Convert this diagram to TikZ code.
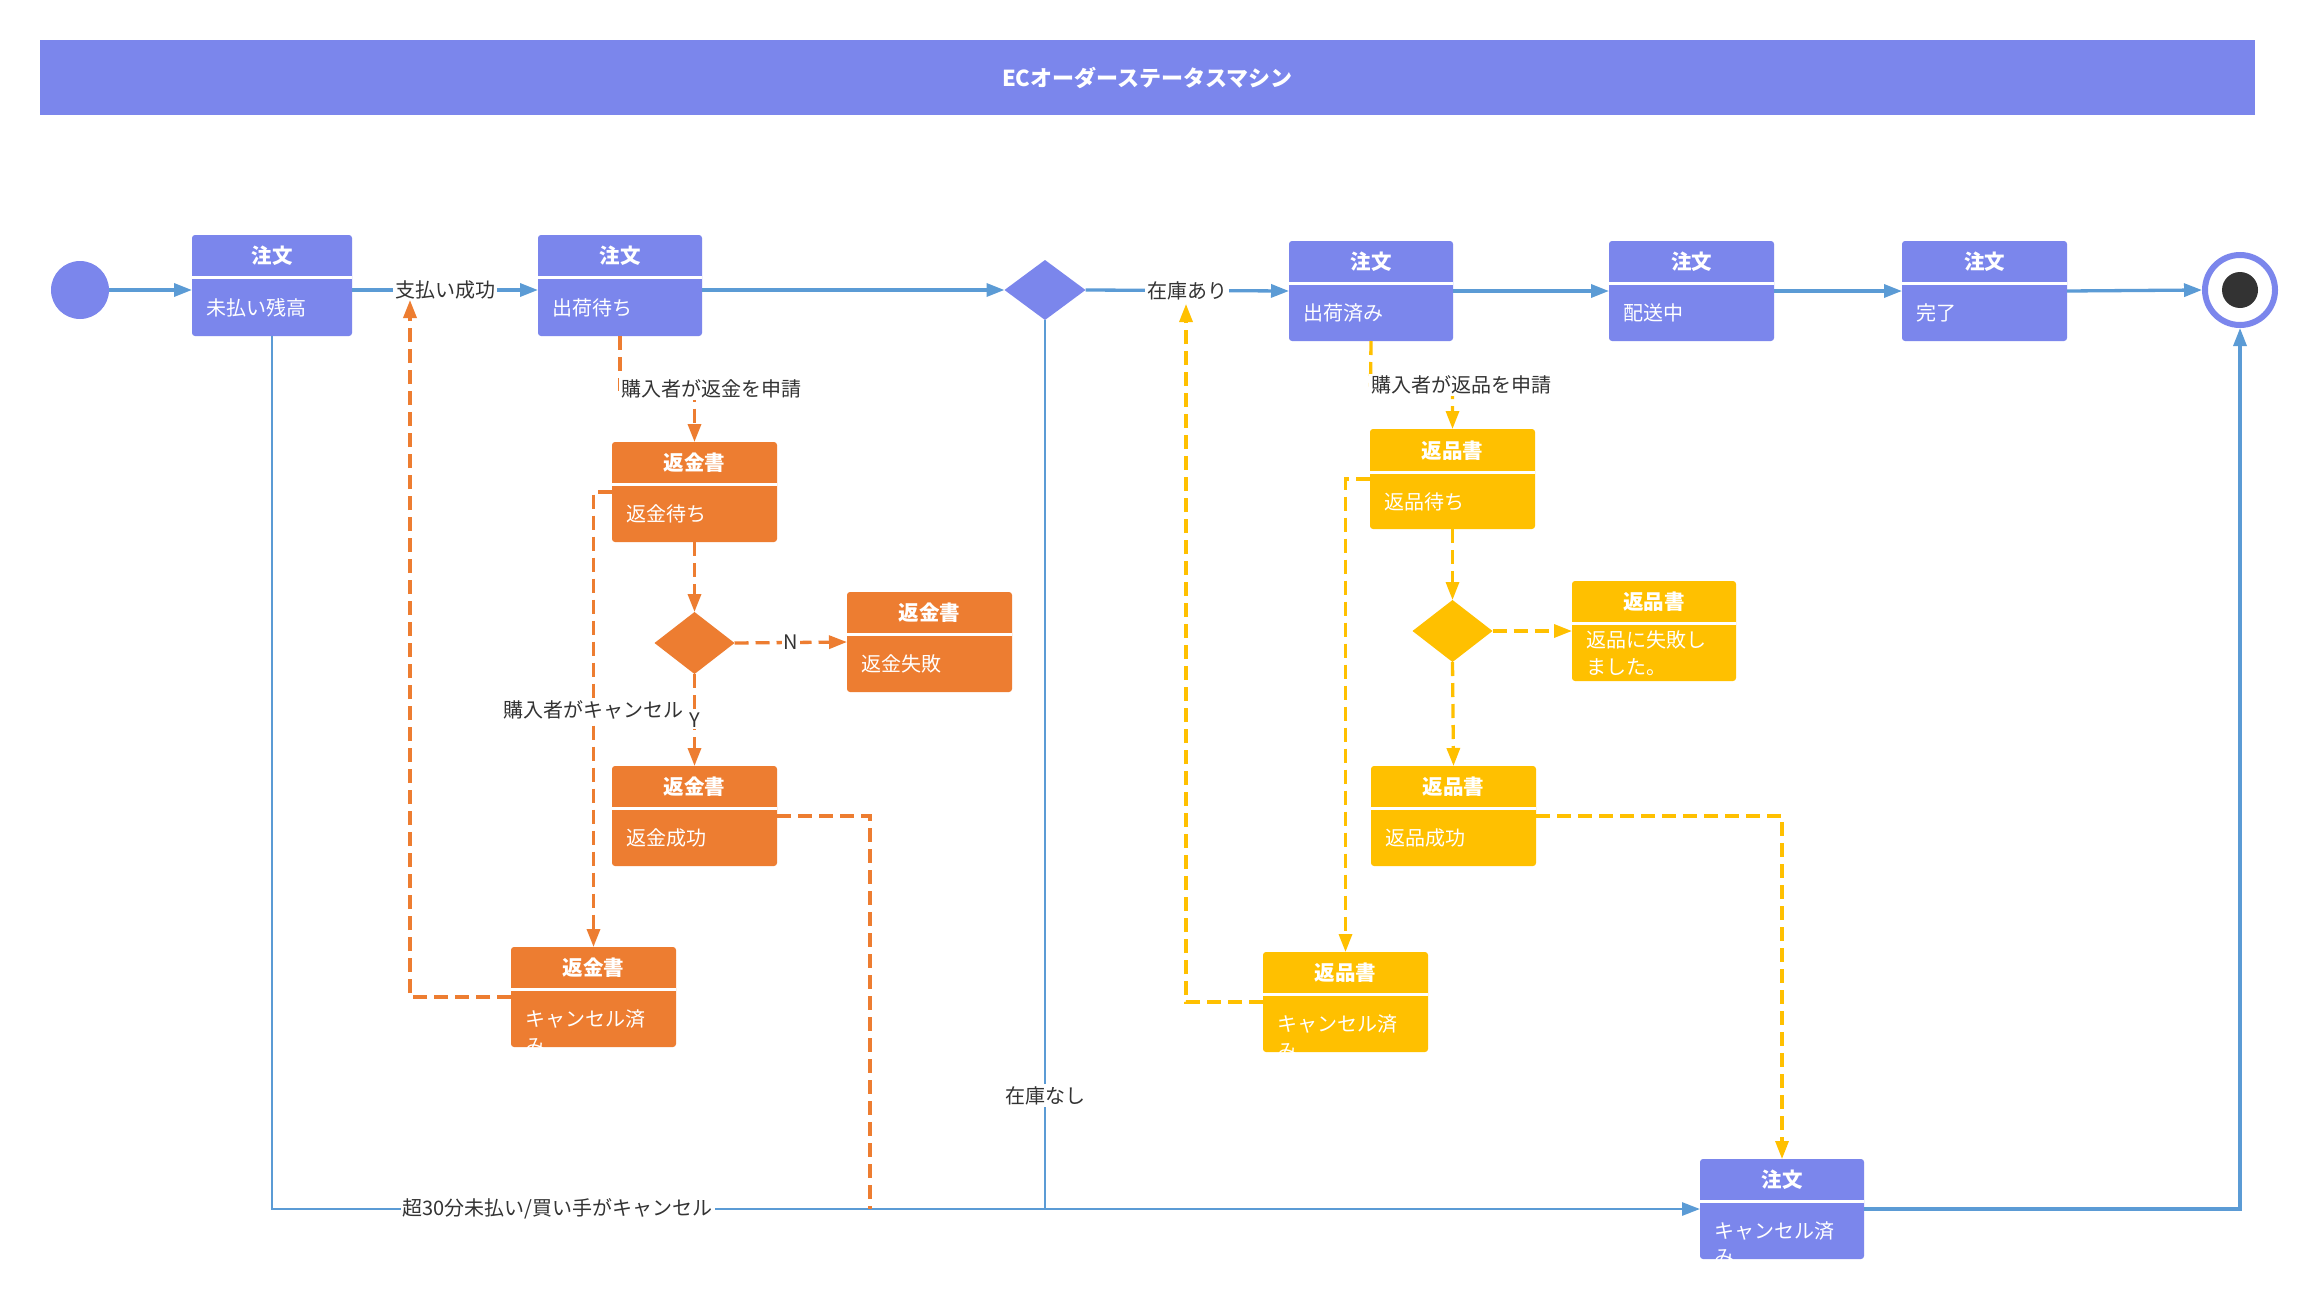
\documentclass[tikz,border=0pt]{standalone}
\usepackage{fontspec}
\setmainfont{Noto Sans CJK JP}
\usetikzlibrary{arrows.meta,shapes.geometric}
\definecolor{stfill}{RGB}{123,134,236}
\definecolor{conn}{RGB}{91,155,213}
\definecolor{orng}{RGB}{237,125,49}
\definecolor{yelw}{RGB}{255,192,0}
\definecolor{txt}{RGB}{51,51,51}
\tikzset{
 stbox/.style={rectangle, rounded corners=3pt, inner sep=0pt, outer sep=0pt, draw=none},
 hdrtxt/.style={text=white, font=\fontsize{20.5}{24}\selectfont\bfseries, inner sep=0pt},
 bodytxt/.style={text=white, font=\fontsize{20}{27}\selectfont, inner sep=0pt, align=left},
 lbl/.style={fill=white, text=txt, font=\fontsize{20}{22}\selectfont, inner sep=2pt},
 arr/.style={-{Triangle[length=18pt,width=13pt]}},
 bl/.style={color=conn, line width=3.3pt},
 orl/.style={color=orng, line width=3.3pt, dash pattern=on 14pt off 7pt},
 yel/.style={color=yelw, line width=3.3pt, dash pattern=on 14pt off 7pt},
 dia/.style={diamond, inner sep=0pt, outer sep=0pt, minimum width=80pt, minimum height=62pt},
}
% name, left, top, right, bottom, header bottom, colour, header, body
\newcommand{\stbx}[9]{%
 \node[stbox, fill=#7, minimum width={(#4-#2)*1pt}, minimum height={(#5-#3)*1pt}] (#1) at ({(#2+#4)/2},{(#3+#5)/2}) {};
 \draw[white, line width=3pt] (#2,#6) -- (#4,#6);
 \node[hdrtxt] (#1h) at ({(#2+#4)/2},{(#3+#6)/2}) {#8};
 \node[bodytxt, anchor=west] (#1b) at ({#2+14},{(#6+#5)/2+1}) {#9};
}
\begin{document}
\begin{tikzpicture}[x=1pt,y=-1pt]
\useasboundingbox (0,0) rectangle (2312,1298);
\fill[white] (0,0) rectangle (2312,1298);

% title
\node[fill=stfill, minimum width=2215pt, minimum height=75pt, inner sep=0pt, text=white, font=\fontsize{22}{26}\selectfont\bfseries] (title) at (1147.5,77.5) {ECオーダーステータスマシン};

% main row
\node[circle, fill=stfill, minimum size=58pt, inner sep=0pt, outer sep=0pt] (start) at (80,290) {};
\stbx{n1}{192}{235}{352}{336}{277}{stfill}{注文}{未払い残高}
\stbx{n2}{538}{235}{702}{336}{277}{stfill}{注文}{出荷待ち}
\node[dia, fill=stfill, minimum width=81pt, minimum height=60pt] (d1) at (1045,290) {};
\stbx{n3}{1289}{241}{1453}{341}{283}{stfill}{注文}{出荷済み}
\stbx{n4}{1609}{241}{1774}{341}{283}{stfill}{注文}{配送中}
\stbx{n5}{1902}{241}{2067}{341}{283}{stfill}{注文}{完了}
\node[circle, draw=stfill, line width=6pt, fill=white, minimum size=70pt, inner sep=0pt] (end) at (2240,290) {};
\node[circle, fill=txt, minimum size=36pt, inner sep=0pt] (endin) at (2240,290) {};

% refund (orange)
\stbx{r1}{612}{442}{777}{542}{484}{orng}{返金書}{返金待ち}
\node[dia, fill=orng] (rd) at (694.5,643) {};
\stbx{rf}{847}{592}{1012}{692}{634}{orng}{返金書}{返金失敗}
\stbx{rs}{612}{766}{777}{866}{808}{orng}{返金書}{返金成功}
\stbx{rc}{511}{947}{676}{1047}{989}{orng}{返金書}{キャンセル済}
\node[bodytxt, anchor=west] (rcm) at (525,1047) {み};

% return (yellow)
\stbx{y1}{1370}{429}{1535}{529}{472}{yelw}{返品書}{返品待ち}
\node[dia, fill=yelw] (yd) at (1452.5,631) {};
\stbx{yf}{1572}{581}{1736}{681}{623}{yelw}{返品書}{返品に失敗し\\ました。}
\stbx{ys}{1371}{766}{1536}{866}{808}{yelw}{返品書}{返品成功}
\stbx{yc}{1263}{952}{1428}{1052}{994}{yelw}{返品書}{キャンセル済}
\node[bodytxt, anchor=west] (ycm) at (1277,1052) {み};

% cancelled order
\stbx{cx}{1700}{1159}{1864}{1259}{1201}{stfill}{注文}{キャンセル済}
\node[bodytxt, anchor=west] (cxm) at (1714,1258) {み};

% helper coordinates
\coordinate (c1) at (410,300);
\coordinate (c2) at (1186,304);
\coordinate (j1) at (1045,1208.5);
\coordinate (j2) at (870,1208.5);
\coordinate (o1) at (620,389);
\coordinate (o2) at (694.5,389);
\coordinate (y1a) at (1370.5,385);
\coordinate (y1b) at (1452.5,385);

% blue connectors
\draw[bl,arr] (start.east) -- (start.east -| n1.west);
\draw[bl,arr] (n1.east |- start.east) -- node[lbl]{支払い成功} (n2.west |- start.east);
\draw[bl,arr] (n2.east |- d1.west) -- (d1.west);
\draw[bl,arr] (d1.east) -- node[lbl]{在庫あり} (n3.west);
\draw[bl,arr] (n3.east) -- (n4.west);
\draw[bl,arr] (n4.east) -- (n5.west);
\draw[bl,arr] (n5.east) -- (end.west);
\draw[bl,line width=2.5pt] (d1.south) -- node[lbl,pos=0.873]{在庫なし} (j1);
\draw[bl,arr,line width=2.8pt] (n1.south) |- node[lbl,pos=0.6]{超30分未払い/買い手がキャンセル} (cx.west);
\draw[bl,arr] (cx.east) -| (end.south);

% orange connectors
\draw[orl,arr] (n2.south) -- (o1) -- (o2) -- (r1.north);
\node[lbl] (lr1) at (711,389) {購入者が返金を申請};
\draw[orl,arr] (r1.south) -- (rd.north);
\draw[orl,arr] (rd.east) -- node[lbl]{N} (rf.west);
\draw[orl,arr] (rd.south) -- node[lbl]{Y} (rs.north);
\draw[orl,arr] (r1.west) -| node[lbl,pos=0.74]{購入者がキャンセル} (rc.north);
\draw[orl,arr] (rc.west) -| (c1);
\draw[orl] (rs.east) -| (j2);

% yellow connectors
\draw[yel,arr] (n3.south) -- (y1a) -- (y1b) -- (y1.north);
\node[lbl] (ly1) at (1461,385) {購入者が返品を申請};
\draw[yel,arr] (y1.south) -- (yd.north);
\draw[yel,arr] (yd.east) -- (yf.west);
\draw[yel,arr] (yd.south) -- (ys.north);
\draw[yel,arr] (y1.west) -| (yc.north);
\draw[yel,arr] (yc.west) -| (c2);
\draw[yel,arr] (ys.east) -| (cx.north);
\end{tikzpicture}
\end{document}
